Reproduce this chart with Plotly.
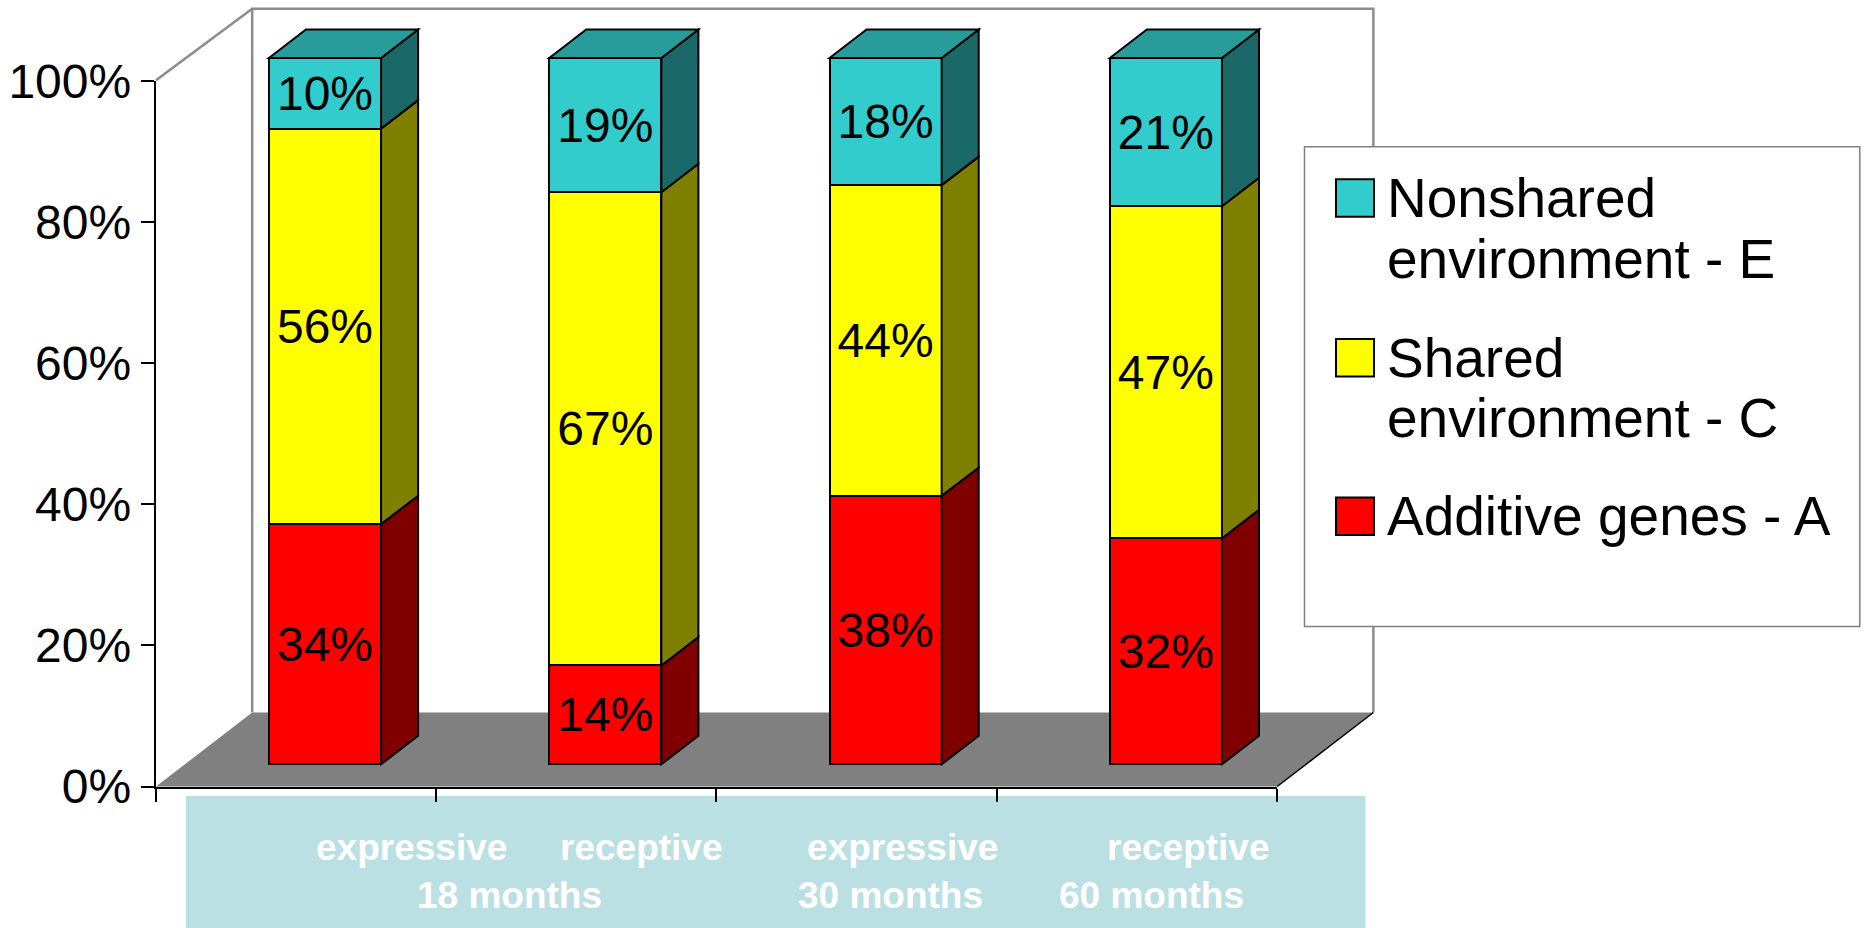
import plotly.graph_objects as go

# ---------------- data ----------------
categories = ["expressive 18 months", "receptive 18 months",
              "expressive 30 months", "receptive 60 months"]
label_line1 = ["expressive", "receptive", "expressive", "receptive"]
label_line2 = ["18 months", "30 months", "60 months"]
series_names = ["Additive genes - A", "Shared environment - C", "Nonshared environment - E"]
legend_lines = [["Nonshared", "environment - E"], ["Shared", "environment - C"], ["Additive genes - A"]]
additive_A = [34, 14, 38, 32]
shared_C = [56, 67, 44, 47]
nonshared_E = [10, 19, 18, 21]
y_ticks = [0, 20, 40, 60, 80, 100]
y_tick_labels = ["0%", "20%", "40%", "60%", "80%", "100%"]

# ---------------- geometry ----------------
W, H = 1867, 928
FONT = "Liberation Sans, Arial, sans-serif"
PX_CAT = 280.3        # px per category
PX_PCT = 7.063        # px per percent
BAR0_PX = 325.0       # pixel x of first bar centre (bar plane)
BASE_PX = 764.3       # pixel y of 0% on bar plane

x0 = -BAR0_PX / PX_CAT
x1 = (W - BAR0_PX) / PX_CAT
y0 = (BASE_PX - H) / PX_PCT
y1 = BASE_PX / PX_PCT

DX = 96.2 / PX_CAT    # full depth vector in axis units
DY = 74.0 / PX_PCT
DY_TOP = 71.4 / PX_PCT  # slight perspective at the top of the walls
F = 0.30              # depth of bar front face
BAR_DEPTH = 0.385
BW = 0.40
bdx, bdy = BAR_DEPTH * DX, BAR_DEPTH * DY
n = len(categories)
xs = list(range(n))


def front(c, v):
    return (c - F * DX, v - F * DY)


def back(c, v, dy=DY):
    return (c + (1 - F) * DX, v - F * DY + dy)


def path(pts):
    return "M " + " L ".join(f"{px:.5f},{py:.5f}" for px, py in pts) + " Z"


def line_path(pts):
    return "M " + " L ".join(f"{px:.5f},{py:.5f}" for px, py in pts)


colors_front = ["#FF0000", "#FFFF00", "#33CCCC"]
colors_side = ["#800000", "#808000", "#1A6868"]
color_top = "#279C9A"

fig = go.Figure()
series = [additive_A, shared_C, nonshared_E]
for name, vals, col in zip(series_names, series, colors_front):
    fig.add_trace(go.Bar(
        x=xs, y=vals, name=name, width=BW,
        marker=dict(color=col, line=dict(color="black", width=2)),
        text=[f"{v}%" for v in vals], textposition="inside",
        insidetextanchor="middle",
        textfont=dict(family=FONT, size=48, color="black"),
        showlegend=False, hoverinfo="skip",
    ))

# invisible trace on front-plane axes
fig.add_trace(go.Scatter(x=[None], y=[None], xaxis="x2", yaxis="y2",
                         showlegend=False, hoverinfo="skip"))

shapes = []
# floor
FL, FR = front(-0.5, 0), front(n - 0.5, 0)
BL, BR = back(-0.5, 0), back(n - 0.5, 0)
shapes.append(dict(type="path", xref="x", yref="y", layer="below",
                   path=path([FL, FR, BR, BL]), fillcolor="#808080",
                   line=dict(width=0)))
# back wall & left wall lines
BLT, BRT = back(-0.5, 100, DY_TOP), back(n - 0.5, 100, DY_TOP)
FLT = front(-0.5, 100)
wall = dict(color="#8C8C8C", width=2.5)
shapes.append(dict(type="path", xref="x", yref="y", layer="below",
                   path=line_path([BL, BLT, BRT, BR]), line=wall))
shapes.append(dict(type="path", xref="x", yref="y", layer="below",
                   path=line_path([FLT, BLT]), line=wall))
shapes.append(dict(type="path", xref="x", yref="y", layer="below",
                   path=line_path([FR, BR]), line=dict(color="black", width=1.5)))
# category band
shapes.append(dict(type="rect", xref="paper", yref="paper", layer="below",
                   x0=186 / W, x1=1365.5 / W, y0=0, y1=(H - 796) / H,
                   fillcolor="#BBE0E3", line=dict(width=0)))

# 3D side and top faces of the bars
for i in xs:
    base = 0
    xr = i + BW / 2
    xl = i - BW / 2
    for k, vals in enumerate(series):
        top = base + vals[i]
        shapes.append(dict(type="path", xref="x", yref="y",
                           path=path([(xr, base), (xr + bdx, base + bdy),
                                      (xr + bdx, top + bdy), (xr, top)]),
                           fillcolor=colors_side[k],
                           line=dict(color="black", width=2)))
        base = top
    shapes.append(dict(type="path", xref="x", yref="y",
                       path=path([(xl, base), (xl + bdx, base + bdy),
                                  (xr + bdx, base + bdy), (xr, base)]),
                       fillcolor=color_top, line=dict(color="black", width=2)))

# legend box
shapes.append(dict(type="rect", xref="paper", yref="paper",
                   x0=1304.5 / W, x1=1859.8 / W, y0=(H - 626.6) / H, y1=(H - 146.7) / H,
                   fillcolor="white", line=dict(color="#808080", width=1.5)))

annotations = []


def ann(xpx, base_px, text, size, color="black", bold=False, xanchor="center"):
    t = f"<b>{text}</b>" if bold else text
    annotations.append(dict(xref="paper", yref="paper", x=xpx / W,
                            y=(H - (base_px - 0.35 * size)) / H,
                            xanchor=xanchor, yanchor="middle", showarrow=False,
                            text=t, font=dict(family=FONT, size=size, color=color)))


legend_first_baseline = [217.3, 377.0, 535.5]
legend_colors = [colors_front[2], colors_front[1], colors_front[0]]
for lines, b, col in zip(legend_lines, legend_first_baseline, legend_colors):
    shapes.append(dict(type="rect", xref="paper", yref="paper",
                       x0=1336 / W, x1=1374 / W, y0=(H - b + 0.5) / H, y1=(H - b + 38) / H,
                       fillcolor=col, line=dict(color="black", width=2)))
    for j, txt in enumerate(lines):
        ann(1385, b + 60.5 * j, txt, 55, xanchor="left")

# category labels
line1_px = [411, 641, 902, 1188.5]
line2_px = [509.6, 890.6, 1151]
for txt, xp in zip(label_line1, line1_px):
    ann(xp, 860, txt, 37, color="white", bold=True)
for txt, xp in zip(label_line2, line2_px):
    ann(xp, 908, txt, 37, color="white", bold=True)

fig.update_layout(
    width=W, height=H, template="none",
    margin=dict(l=0, r=0, t=0, b=0),
    paper_bgcolor="white", plot_bgcolor="rgba(0,0,0,0)",
    barmode="stack", showlegend=False,
    font=dict(family=FONT, color="black"),
    xaxis=dict(range=[x0, x1], domain=[0, 1], visible=False, automargin=False),
    yaxis=dict(range=[y0, y1], domain=[0, 1], visible=False, automargin=False),
    xaxis2=dict(range=[-0.5, n - 0.5], domain=[155.5 / W, 1277.2 / W], anchor="y2",
                tickvals=[i - 0.5 for i in range(n + 1)], showticklabels=False,
                ticks="outside", ticklen=13, tickwidth=1.5, tickcolor="black",
                showline=True, linecolor="black", linewidth=2,
                showgrid=False, zeroline=False, automargin=False),
    yaxis2=dict(range=[0, 100], domain=[(H - 786.5) / H, (H - 80.7) / H], anchor="x2",
                tickmode="array", tickvals=y_ticks, ticktext=y_tick_labels,
                ticks="outside", ticklen=13,
                tickwidth=1.5, tickcolor="black", showline=True, linecolor="black",
                linewidth=1.5, showgrid=False, zeroline=False, automargin=False,
                tickfont=dict(family=FONT, size=48, color="black")),
    shapes=shapes, annotations=annotations,
)

fig.write_html("out.html", config={"displayModeBar": False},
               post_script="document.body.style.margin='0px';document.body.style.overflow='hidden';")
